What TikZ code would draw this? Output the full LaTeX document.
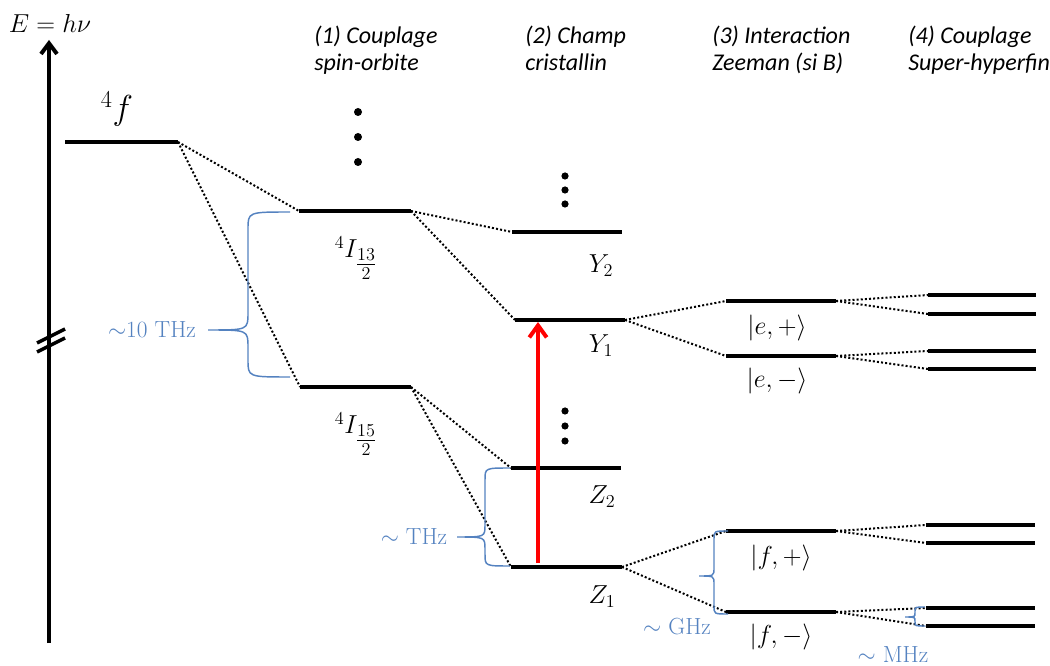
\documentclass[tikz,border=0pt]{standalone}
\usepackage{fix-cm}
\usepackage{amsmath}
\usepackage{fontspec}
\newfontfamily\headfont{Carlito}
\usetikzlibrary{arrows.meta}
\definecolor{braceblue}{RGB}{84,130,192}
\newcommand\drawbrace[7]{%
  \draw[bracestyle] (#1,#4) .. controls (#2,#4) .. (#2,#4+#7) -- (#2,#5-#7)
    .. controls (#2,#5) .. (#3,#5) .. controls (#2,#5) .. (#2,#5+#7)
    -- (#2,#6-#7) .. controls (#2,#6) .. (#1,#6);}
\tikzset{
  level/.style={line width=3pt},
  link/.style={line width=1.5pt, dash pattern=on 1.5pt off 1.6pt},
  axisline/.style={line width=3pt, -{Straight Barb[length=8pt,width=12pt]}},
  excite/.style={line width=3pt, red, -{Straight Barb[length=9pt,width=13pt]}},
  bracestyle/.style={line width=1.1pt, braceblue},
  head/.style={anchor=north west, align=left, inner sep=0pt,
    font=\headfont\itshape\fontsize{18}{20.3}\selectfont},
  mlabel/.style={inner sep=0pt, font=\fontsize{19.5}{23}\selectfont},
  blabel/.style={inner sep=0pt, text=braceblue, font=\fontsize{17.5}{20}\selectfont},
  dotmark/.style={fill=black}
}
\begin{document}
\begin{tikzpicture}[x=0.75pt,y=-0.75pt]
\useasboundingbox (0,0) rectangle (1050,666);
% axis
\coordinate (axB) at (49,643);
\coordinate (axT) at (49,40);
\draw[axisline] (axB) -- (axT);
\draw[line width=2.6pt] (37,343) -- (65,329);
\draw[line width=2.6pt] (37,352) -- (65,338);
\node[mlabel, anchor=base] (E) at (50,33) {$E = h\nu$};

% headers
\node[head] (h1) at (314,26) {(1) Couplage\\spin-orbite};
\node[head] (h2) at (525,26) {(2) Champ\\cristallin};
\node[head] (h3) at (712,26) {(3) Interaction\\Zeeman (si B)};
\node[head] (h4) at (908,26) {(4) Couplage\\Super-hyperfin};

% levels
\coordinate (fL) at (65,142);  \coordinate (fR) at (178,142);
\coordinate (aL) at (299,211); \coordinate (aR) at (411,211);
\coordinate (bL) at (300,387); \coordinate (bR) at (411,387);
\coordinate (y2L) at (512,232); \coordinate (y2R) at (622,232);
\coordinate (y1L) at (515,320); \coordinate (y1R) at (625,320);
\coordinate (z2L) at (511,468); \coordinate (z2R) at (621,468);
\coordinate (z1L) at (511,567); \coordinate (z1R) at (622,567);
\coordinate (epL) at (726,301); \coordinate (epR) at (836,301);
\coordinate (emL) at (726,356); \coordinate (emR) at (836,356);
\coordinate (fpL) at (726,531); \coordinate (fpR) at (836,531);
\coordinate (fmL) at (726,612); \coordinate (fmR) at (836,612);
\coordinate (h1L) at (928,295); \coordinate (h1R) at (1036,295);
\coordinate (h2L) at (928,314); \coordinate (h2R) at (1036,314);
\coordinate (h3L) at (928,351); \coordinate (h3R) at (1036,351);
\coordinate (h4L) at (928,369); \coordinate (h4R) at (1036,369);
\coordinate (h5L) at (926,525); \coordinate (h5R) at (1035,525);
\coordinate (h6L) at (926,543); \coordinate (h6R) at (1035,543);
\coordinate (h7L) at (926,608); \coordinate (h7R) at (1035,608);
\coordinate (h8L) at (926,626); \coordinate (h8R) at (1035,626);

\foreach \l in {f,a,b,y2,y1,z2,z1,ep,em,fp,fm,h1,h2,h3,h4,h5,h6,h7,h8}
  \draw[level] (\l L) -- (\l R);

% connectors
\draw[link] (fR) -- (aL);
\draw[link] (fR) -- (bL);
\draw[link] (aR) -- (y2L);
\draw[link] (aR) -- (y1L);
\draw[link] (bR) -- (z2L);
\draw[link] (bR) -- (z1L);
\draw[link] (y1R) -- (epL);
\draw[link] (y1R) -- (emL);
\draw[link] (z1R) -- (fpL);
\draw[link] (z1R) -- (fmL);
\draw[link] (epR) -- (h1L);
\draw[link] (epR) -- (h2L);
\draw[link] (emR) -- (h3L);
\draw[link] (emR) -- (h4L);
\draw[link] (fpR) -- (h5L);
\draw[link] (fpR) -- (h6L);
\draw[link] (fmR) -- (h7L);
\draw[link] (fmR) -- (h8L);

% excitation arrow
\coordinate (exS) at (538,567);
\coordinate (exE) at (538,320);
\draw[excite, shorten <=3pt, shorten >=1.5pt] (exS) -- (exE);

% ellipsis dots
\foreach \yy in {112,137,162} \fill[dotmark] (358,\yy) circle[radius=3pt];
\foreach \yy in {176,190,204} \fill[dotmark] (565,\yy) circle[radius=2.7pt];
\foreach \yy in {411,426,441} \fill[dotmark] (565,\yy) circle[radius=2.7pt];

% level labels
\node[inner sep=0pt, font=\fontsize{26}{30}\selectfont] (lf) at (117,109) {$^4f$};
\node[mlabel] (la) at (356,258) {$^{4}I_{\genfrac{}{}{}{1}{13}{2}}$};
\node[mlabel] (lb) at (356,434) {$^{4}I_{\genfrac{}{}{}{1}{15}{2}}$};
\node[mlabel] (ly2) at (601,266) {$Y_2$};
\node[mlabel] (ly1) at (601,346) {$Y_1$};
\node[mlabel] (lz2) at (602,497) {$Z_2$};
\node[mlabel] (lz1) at (602,597) {$Z_1$};
\node[mlabel] (lep) at (777,328) {$|e,+\rangle$};
\node[mlabel] (lem) at (777,381) {$|e,-\rangle$};
\node[mlabel] (lfp) at (781,558) {$|f,+\rangle$};
\node[mlabel] (lfm) at (781,637) {$|f,-\rangle$};

% braces
\drawbrace{290}{248}{208}{212}{330}{377}{17}
\drawbrace{510}{485}{457}{468}{537}{566}{12}
\drawbrace{728}{714}{699}{531}{576}{614}{8}
\drawbrace{925}{915}{905}{607}{617}{626}{4}
\node[blabel] (b1) at (152,330) {$\sim$10 THz};
\node[blabel] (b2) at (414,537) {$\sim$ THz};
\node[blabel] (b3) at (677,627) {$\sim$ GHz};
\node[blabel] (b4) at (893,655) {$\sim$ MHz};
\end{tikzpicture}
\end{document}
